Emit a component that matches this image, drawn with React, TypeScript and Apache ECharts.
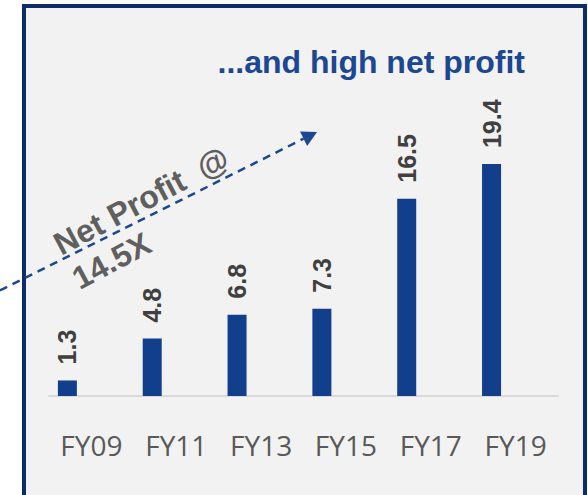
import React, { useEffect, useRef } from "react";
import * as echarts from "echarts";

const categories = ["FY09", "FY11", "FY13", "FY15", "FY17", "FY19"];
const netProfit = [1.3, 4.8, 6.8, 7.3, 16.5, 19.4];
const spacer = [null, null, null, null, null, null];
const titleText = "...and high net profit";
const arrowText = "Net Profit  @\n14.5X";

export default function App() {
  const ref = useRef<HTMLDivElement>(null);
  useEffect(() => {
    if (!ref.current) return;
    const chart = echarts.init(ref.current, null, { renderer: "svg" });
    const blue = "#123f8c";
    chart.setOption({
      animation: false,
      backgroundColor: "#ffffff",
      grid: { left: 49, right: 30, top: 133, bottom: 99, containLabel: false },
      xAxis: {
        type: "category",
        data: categories,
        axisLine: { show: true, lineStyle: { color: "#d9d9d9", width: 2 } },
        axisTick: { show: false },
        axisLabel: {
          interval: 0,
          margin: 34,
          fontSize: 28,
          lineHeight: 30,
          color: "#595959",
          fontFamily: "'Liberation Sans Narrow', 'Open Sans', sans-serif",
        },
      },
      yAxis: { type: "value", min: 0, max: 22, show: false, splitLine: { show: false } },
      series: [
        {
          type: "bar",
          data: netProfit,
          barWidth: 19,
          barGap: "153%",
          itemStyle: { color: blue },
          label: {
            show: true,
            position: "top",
            distance: 16,
            rotate: 90,
            align: "left",
            verticalAlign: "middle",
            fontSize: 25,
            fontWeight: "bold",
            color: "#404040",
            fontFamily: "'Liberation Sans', Arial, sans-serif",
          },
        },
        { type: "bar", data: spacer, barWidth: 19 },
      ],
      graphic: [
        {
          type: "rect",
          z: -100,
          shape: { x: 24, y: 6, width: 561, height: 520 },
          style: { fill: "#f2f2f2", stroke: "#0d2c68", lineWidth: 4 },
        },
        {
          type: "text",
          x: 525,
          y: 62,
          style: {
            text: titleText,
            align: "right",
            verticalAlign: "middle",
            fontSize: 32,
            fontWeight: "bold",
            fill: "#1b4793",
            fontFamily: "'Liberation Sans', Arial, sans-serif",
          },
        },
        {
          type: "line",
          shape: { x1: 0, y1: 290.5, x2: 303.6, y2: 138.7 },
          style: { stroke: "#1b4793", lineWidth: 2.5, lineDash: [8, 6] },
        },
        {
          type: "polygon",
          shape: { points: [[317, 132], [300, 131.5], [307.2, 145.9]] },
          style: { fill: "#1b4793" },
        },
        {
          type: "text",
          x: 47,
          y: 229,
          rotation: 0.49,
          style: {
            text: arrowText,
            align: "left",
            verticalAlign: "top",
            fontSize: 32,
            lineHeight: 39,
            fontWeight: "bold",
            fill: "#5f5f5f",
            fontFamily: "'Liberation Sans', Arial, sans-serif",
          },
        },
      ],
    });
    return () => chart.dispose();
  }, []);
  return (
    <div
      ref={ref}
      style={{ position: "absolute", left: 0, top: 0, width: 588, height: 495 }}
    />
  );
}
